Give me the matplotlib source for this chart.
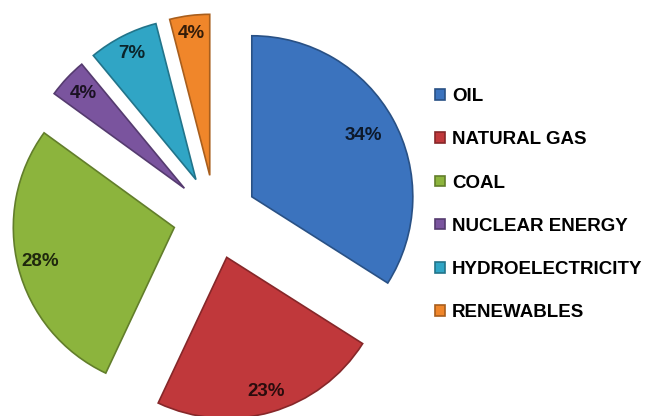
import numpy as np
import matplotlib.pyplot as plt
from matplotlib.colors import to_rgb

plt.rcParams['font.family'] = ['Liberation Sans', 'DejaVu Sans']

labels = ["OIL", "NATURAL GAS", "COAL", "NUCLEAR ENERGY", "HYDROELECTRICITY", "RENEWABLES"]
shares = [34, 23, 28, 4, 7, 4]
colors = ["#3b73be", "#c0383b", "#8cb43d", "#7a549e", "#30a5c5", "#f0862a"]
# how far out (fraction of radius) each percentage sits
pct_pos = [0.79, 0.87, 0.86, 0.86, 0.88, 0.89]


def shade(c, f):
    r, g, b = to_rgb(c)
    return (r * f, g * f, b * f)


fig = plt.figure(figsize=(6.45, 4.16), dpi=100)
ax = fig.add_axes([0, 0, 1, 1])

radius = 161
gap = 42
wedges, texts, autotexts = ax.pie(
    shares, colors=colors, startangle=90, counterclock=False,
    center=(215, 199), radius=radius, explode=[gap] * len(shares),
    autopct="%d%%", pctdistance=0.86,
    wedgeprops=dict(linewidth=1.2),
    textprops=dict(fontsize=13.5, fontweight="bold"))

for w, t, c, p in zip(wedges, autotexts, colors, pct_pos):
    w.set_edgecolor(shade(c, 0.7))
    t.set_color(shade(c, 0.22))
    mid = np.deg2rad((w.theta1 + w.theta2) / 2)
    cx, cy = w.center
    t.set_position((cx + p * radius * np.cos(mid), cy + p * radius * np.sin(mid)))

ax.set_xlim(0, 645)
ax.set_ylim(0, 416)
ax.set_aspect("equal")
ax.axis("off")

ax.legend(wedges, labels, loc="upper left", bbox_to_anchor=(435 / 645, 1 - 88 / 416),
          bbox_transform=fig.transFigure, frameon=False, borderpad=0, borderaxespad=0,
          handlelength=0.55, handleheight=0.5, handletextpad=0.35, labelspacing=1.4,
          prop=dict(size=13.5, weight="bold"))

fig.savefig("out.png", dpi=100)
